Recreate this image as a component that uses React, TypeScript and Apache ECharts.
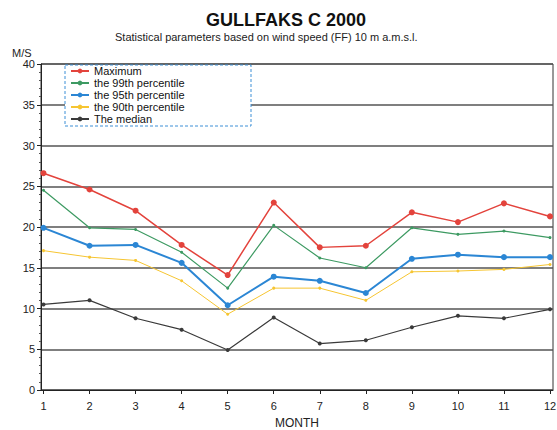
import React, { useEffect, useRef } from 'react';
import * as echarts from 'echarts';

// Month numbers on the x axis
const months = [1, 2, 3, 4, 5, 6, 7, 8, 9, 10, 11, 12];

// Wind speed statistics (m/s)
const maximum = [26.6, 24.6, 22.0, 17.8, 14.1, 23.0, 17.5, 17.7, 21.8, 20.6, 22.9, 21.3];
const p99 = [24.5, 19.9, 19.7, 16.9, 12.5, 20.2, 16.2, 15.0, 19.9, 19.1, 19.5, 18.7];
const p95 = [19.9, 17.7, 17.8, 15.6, 10.4, 13.9, 13.4, 11.9, 16.1, 16.6, 16.3, 16.3];
const p90 = [17.1, 16.3, 15.9, 13.4, 9.3, 12.5, 12.5, 11.0, 14.5, 14.6, 14.8, 15.4];
const median = [10.5, 11.0, 8.8, 7.4, 4.9, 8.9, 5.7, 6.1, 7.7, 9.1, 8.8, 9.9];

const seriesNames = [
  'Maximum',
  'the 99th percentile',
  'the 95th percentile',
  'the 90th percentile',
  'The median',
];

const FONT = 'Liberation Sans, Arial, sans-serif';

export default function App() {
  const chartRef = useRef<HTMLDivElement>(null);

  useEffect(() => {
    if (!chartRef.current) return;
    document.body.style.margin = '0';
    document.body.style.overflow = 'hidden';
    const chart = echarts.init(chartRef.current, null, { renderer: 'svg' });

    const pairs = (vals: number[]) => months.map((m, i) => [m, vals[i]]);

    const line = (
      name: string,
      vals: number[],
      color: string,
      width: number,
      size: number
    ) => ({
      name,
      type: 'line',
      data: pairs(vals),
      symbol: 'circle',
      symbolSize: size,
      lineStyle: { color, width },
      itemStyle: { color },
    });

    const option: echarts.EChartsOption = {
      animation: false,
      backgroundColor: '#fff',
      textStyle: { fontFamily: FONT },
      title: [
        {
          text: 'GULLFAKS C 2000',
          left: 206,
          top: 11,
          padding: 0,
          textStyle: { fontSize: 18, fontWeight: 'bold', color: '#111', fontFamily: FONT },
        },
        {
          text: 'Statistical parameters based on wind speed (FF) 10 m a.m.s.l.',
          left: 115,
          top: 31,
          padding: 0,
          textStyle: { fontSize: 11, fontWeight: 'normal', color: '#222', fontFamily: FONT },
        },
      ],
      graphic: [
        {
          type: 'text',
          left: 12,
          top: 47,
          style: { text: 'M/S', fill: '#222', font: `11px ${FONT}` },
        },
        {
          type: 'rect',
          z: 10,
          shape: { x: 65, y: 65, width: 186, height: 61 },
          style: { fill: '#fff', stroke: '#3d8fd6', lineWidth: 1, lineDash: [3, 2] },
        },
      ],
      legend: {
        orient: 'vertical',
        left: 70,
        top: 65,
        padding: 0,
        itemGap: 0,
        itemWidth: 18,
        itemHeight: 6,
        z: 20,
        data: seriesNames,
        textStyle: { fontSize: 11, lineHeight: 12, color: '#111', fontFamily: FONT },
      },
      grid: {
        left: 41,
        right: 4,
        top: 64,
        bottom: 40,
        show: true,
        borderColor: '#333',
        borderWidth: 1,
        outerBoundsMode: 'none',
      } as any,
      xAxis: {
        type: 'value',
        min: 0.946,
        max: 12.065,
        name: 'MONTH',
        nameLocation: 'middle',
        nameGap: 27,
        nameTextStyle: { fontSize: 12, color: '#222', fontFamily: FONT },
        axisLine: { lineStyle: { color: '#222', width: 1 } },
        axisTick: { show: true, length: 4, customValues: months, lineStyle: { color: '#222' } },
        axisLabel: { customValues: months, margin: 10, fontSize: 11, color: '#222', fontFamily: FONT },
        splitLine: { show: false },
      },
      yAxis: {
        type: 'value',
        min: 0,
        max: 40,
        interval: 5,
        axisLine: { show: true, lineStyle: { color: '#222', width: 1 } },
        axisTick: { show: true, length: 4, lineStyle: { color: '#222' } },
        minorTick: { show: true, splitNumber: 5, length: 2, lineStyle: { color: '#555' } },
        axisLabel: { margin: 6, fontSize: 11, color: '#222', fontFamily: FONT },
        splitLine: { show: true, lineStyle: { color: '#555', width: 1.5 } },
      },
      series: [
        line(seriesNames[0], maximum, '#e3433c', 1.5, 6),
        line(seriesNames[1], p99, '#3d9a62', 1.2, 3),
        line(seriesNames[2], p95, '#2b86d4', 2, 6),
        line(seriesNames[3], p90, '#f6c531', 1, 3),
        line(seriesNames[4], median, '#3a3a3a', 1.2, 4),
      ] as any,
    };

    chart.setOption(option);

    return () => {
      chart.dispose();
    };
  }, []);

  return (
    <div
      ref={chartRef}
      style={{ position: 'absolute', left: 0, top: 0, width: 557, height: 430 }}
    />
  );
}
